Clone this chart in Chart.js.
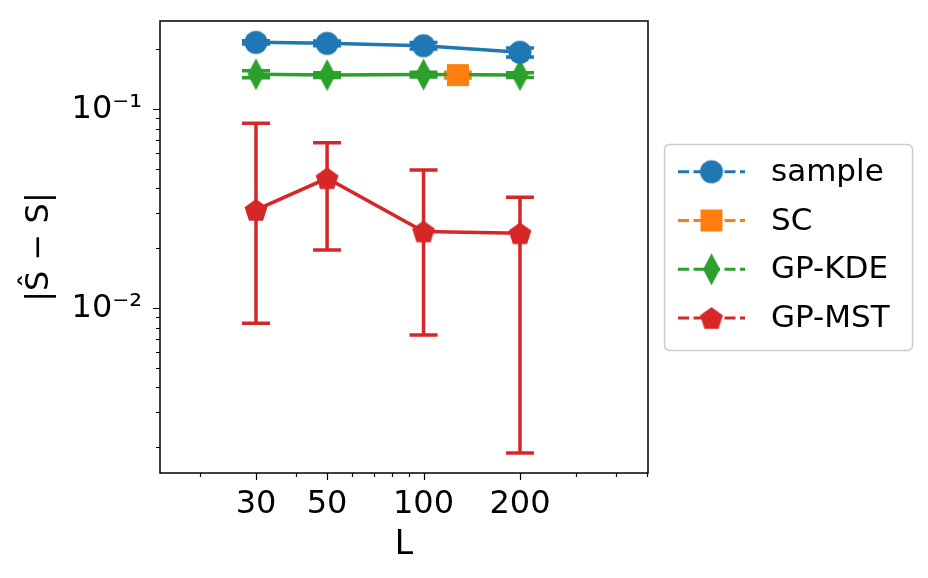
<!DOCTYPE html>
<html>
<head>
<meta charset="utf-8">
<script src="https://cdn.jsdelivr.net/npm/chart.js@4/dist/chart.umd.min.js"></script>
<style>
  body { margin: 0; background: #fff; }
  canvas { display: block; }
</style>
</head>
<body>
<canvas id="myChart" width="928" height="578"></canvas>
<script>
// data
const lengths = [30, 50, 100, 200];
const sampleVals = [0.2170, 0.2145, 0.2088, 0.1934];
const sampleErr = [0.004, 0.006, 0.008, 0.010];
const scLengths = [128];
const scVals = [0.1486];
const scErr = [0.005];
const kdeVals = [0.1500, 0.1486, 0.1495, 0.1486];
const kdeErr = [0.006, 0.004, 0.004, 0.004];
const mstVals = [0.0312, 0.0450, 0.0243, 0.0238];
const mstLow = [0.00841, 0.01963, 0.00734, 0.001875];
const mstHigh = [0.0850, 0.0679, 0.0496, 0.0361];

const xTicks = [20, 30, 40, 50, 60, 70, 80, 90, 100, 200, 300, 400, 500];
const xLabeled = [30, 50, 100, 200];
const yTicks = [0.002, 0.003, 0.004, 0.005, 0.006, 0.007, 0.008, 0.009, 0.01,
                0.02, 0.03, 0.04, 0.05, 0.06, 0.07, 0.08, 0.09, 0.1, 0.2];
const yMajor = [0.01, 0.1];
const yLabels = ['10\u207B\u00B2', '10\u207B\u00B9'];

const seriesNames = ['sample', 'SC', 'GP-KDE', 'GP-MST'];
const colors = ['#1f77b4', '#ff7f0e', '#2ca02c', '#d62728'];

const FONT = 'DejaVu Sans';

// marker images (matplotlib o, s, d, p)
function makeMarker(kind, color) {
  const c = document.createElement('canvas');
  const w = kind === 'd' ? 19 : 26, h = kind === 'd' ? 34 : 26;
  c.width = w; c.height = h;
  const g = c.getContext('2d');
  g.fillStyle = color;
  g.beginPath();
  const cx = w / 2, cy = h / 2;
  if (kind === 'o') {
    g.arc(cx, cy, 11.5, 0, Math.PI * 2);
  } else if (kind === 's') {
    g.rect(cx - 11, cy - 11, 22, 22);
  } else if (kind === 'd') {
    g.moveTo(cx, cy - 16); g.lineTo(cx + 8.5, cy); g.lineTo(cx, cy + 16); g.lineTo(cx - 8.5, cy);
  } else {
    const R = 12;
    for (let k = 0; k < 5; k++) {
      const a = -Math.PI / 2 + k * 2 * Math.PI / 5;
      const px = cx + R * Math.cos(a), py = cy + 1 + R * Math.sin(a);
      if (k === 0) g.moveTo(px, py); else g.lineTo(px, py);
    }
  }
  g.closePath();
  g.fill();
  return c;
}
const markers = [makeMarker('o', colors[0]), makeMarker('s', colors[1]),
                 makeMarker('d', colors[2]), makeMarker('p', colors[3])];

const pts = (xs, ys) => xs.map((x, i) => ({ x: x, y: ys[i] }));

const errorBars = [
  { lo: sampleVals.map((v, i) => v - sampleErr[i]), hi: sampleVals.map((v, i) => v + sampleErr[i]) },
  { lo: scVals.map((v, i) => v - scErr[i]), hi: scVals.map((v, i) => v + scErr[i]) },
  { lo: kdeVals.map((v, i) => v - kdeErr[i]), hi: kdeVals.map((v, i) => v + kdeErr[i]) },
  { lo: mstLow, hi: mstHigh }
];

const extras = {
  id: 'extras',
  beforeDatasetsDraw(chart) {
    const { ctx } = chart;
    const y = chart.scales.y;
    ctx.save();
    ctx.lineWidth = 3.5;
    chart.data.datasets.forEach((ds, di) => {
      const meta = chart.getDatasetMeta(di);
      ctx.strokeStyle = colors[di];
      meta.data.forEach((p, i) => {
        const top = y.getPixelForValue(errorBars[di].hi[i]);
        const bot = y.getPixelForValue(errorBars[di].lo[i]);
        ctx.beginPath();
        ctx.moveTo(p.x, top); ctx.lineTo(p.x, bot);
        ctx.moveTo(p.x - 14, top); ctx.lineTo(p.x + 14, top);
        ctx.moveTo(p.x - 14, bot); ctx.lineTo(p.x + 14, bot);
        ctx.stroke();
      });
    });
    ctx.restore();
  },
  afterDraw(chart) {
    const { ctx, chartArea: a } = chart;
    const xs = chart.scales.x, ys = chart.scales.y;
    ctx.save();
    // frame
    ctx.strokeStyle = '#000';
    ctx.lineWidth = 1.5;
    ctx.strokeRect(a.left, a.top, a.right - a.left, a.bottom - a.top);
    // tick marks
    ctx.lineWidth = 1.2;
    ctx.beginPath();
    xTicks.forEach(v => {
      const px = Math.round(xs.getPixelForValue(v)) + 0.5;
      const len = xLabeled.includes(v) ? 7 : 4;
      ctx.moveTo(px, a.bottom); ctx.lineTo(px, a.bottom + len);
    });
    yTicks.forEach(v => {
      const py = Math.round(ys.getPixelForValue(v)) + 0.5;
      const len = yMajor.includes(v) ? 7 : 4;
      ctx.moveTo(a.left, py); ctx.lineTo(a.left - len, py);
    });
    ctx.stroke();

    // legend
    const bx = 664.5, by = 144.5, bw = 248, bh = 206, r = 5;
    ctx.beginPath();
    ctx.moveTo(bx + r, by);
    ctx.arcTo(bx + bw, by, bx + bw, by + bh, r);
    ctx.arcTo(bx + bw, by + bh, bx, by + bh, r);
    ctx.arcTo(bx, by + bh, bx, by, r);
    ctx.arcTo(bx, by, bx + bw, by, r);
    ctx.closePath();
    ctx.fillStyle = 'rgba(255,255,255,0.8)';
    ctx.fill();
    ctx.strokeStyle = '#cccccc';
    ctx.lineWidth = 1.5;
    ctx.stroke();

    ctx.font = '31px "' + FONT + '"';
    ctx.textBaseline = 'middle';
    ctx.textAlign = 'left';
    seriesNames.forEach((name, i) => {
      const ry = 171.7 + i * 48.8;
      ctx.strokeStyle = colors[i];
      ctx.lineWidth = 3;
      ctx.setLineDash([11, 4.5]);
      ctx.beginPath();
      ctx.moveTo(678, ry); ctx.lineTo(745, ry);
      ctx.stroke();
      ctx.setLineDash([]);
      const m = markers[i];
      ctx.drawImage(m, 711.5 - m.width / 2, ry - m.height / 2);
      ctx.fillStyle = '#000';
      ctx.fillText(name, 771, ry + 1);
    });
    ctx.restore();
  }
};

const lineDs = (label, data, i) => ({
  label: label,
  data: data,
  borderColor: colors[i],
  backgroundColor: colors[i],
  borderWidth: 3.5,
  pointStyle: markers[i],
  pointRadius: 12,
  showLine: true,
  tension: 0
});

new Chart(document.getElementById('myChart'), {
  type: 'line',
  data: {
    datasets: [
      lineDs(seriesNames[0], pts(lengths, sampleVals), 0),
      lineDs(seriesNames[1], pts(scLengths, scVals), 1),
      lineDs(seriesNames[2], pts(lengths, kdeVals), 2),
      lineDs(seriesNames[3], pts(lengths, mstVals), 3)
    ]
  },
  options: {
    responsive: false,
    animation: false,
    events: [],
    layout: { padding: { top: 21, right: 280, bottom: 0, left: 0 } },
    plugins: { legend: { display: false }, tooltip: { enabled: false } },
    scales: {
      x: {
        type: 'logarithmic',
        bounds: 'data',
        min: 15.05,
        max: 501.8,
        afterBuildTicks: s => { s.ticks = xTicks.map(v => ({ value: v })); },
        afterFit: s => { s.height = 105; s.paddingLeft = 0; s.paddingRight = 0; },
        grid: { drawOnChartArea: false, tickLength: 7, tickColor: 'rgba(0,0,0,0)' },
        border: { display: false },
        ticks: {
          autoSkip: false, maxRotation: 0, padding: 5, color: '#000',
          font: { family: FONT, size: 32 },
          callback: v => xLabeled.includes(v) ? String(v) : ''
        },
        title: {
          display: true, text: 'L', color: '#000',
          font: { family: FONT, size: 33 },
          padding: { top: 0, bottom: 13 }
        }
      },
      y: {
        type: 'logarithmic',
        bounds: 'data',
        min: 0.001487,
        max: 0.2778,
        afterBuildTicks: s => { s.ticks = yTicks.map(v => ({ value: v })); },
        afterFit: s => { s.width = 160; s.paddingTop = 0; s.paddingBottom = 0; },
        grid: { drawOnChartArea: false, tickLength: 7, tickColor: 'rgba(0,0,0,0)' },
        border: { display: false },
        ticks: {
          autoSkip: false, padding: 11, color: '#000',
          font: { family: FONT, size: 32 },
          callback: v => { const k = yMajor.indexOf(v); return k >= 0 ? yLabels[k] : ''; }
        },
        title: {
          display: true, text: '|\u015C \u2212 S|', color: '#000',
          font: { family: FONT, size: 32 },
          padding: { top: 20, bottom: 0 }
        }
      }
    }
  },
  plugins: [extras]
});
</script>
</body>
</html>
